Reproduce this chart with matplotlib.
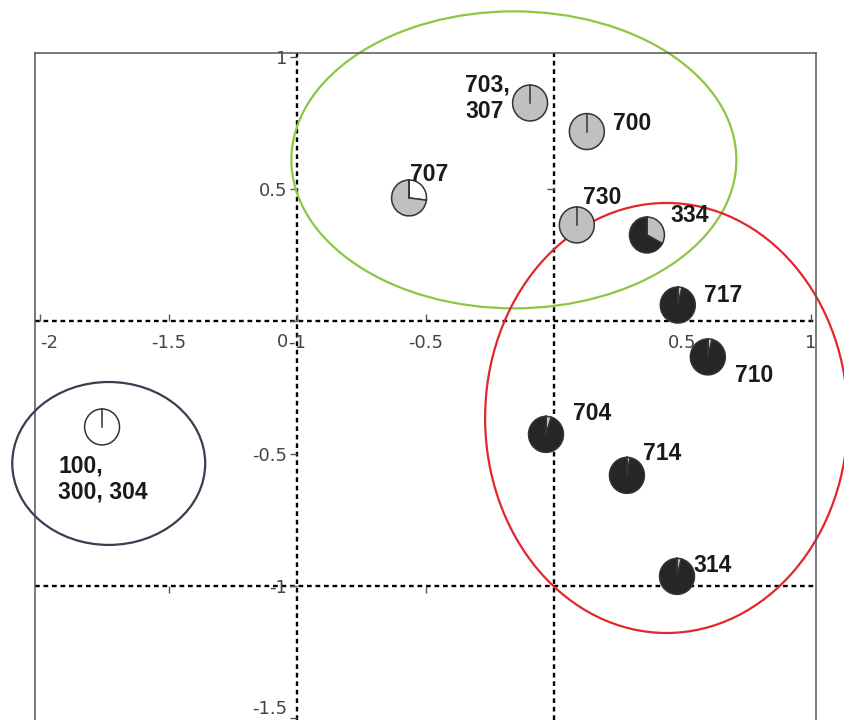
import numpy as np
import matplotlib.pyplot as plt
from matplotlib.patches import Wedge, Ellipse

plt.rcParams['axes.unicode_minus'] = False

# sample scores and pie compositions (white / grey / black)
labels = ['100,\n300, 304', '703,\n307', '700', '707', '730', '334',
          '717', '710', '704', '714', '314']
pc1 = [-1.759, -0.093, 0.128, -0.564, 0.089, 0.362, 0.482, 0.599, -0.031, 0.284, 0.479]
pc2 = [-0.399, 0.826, 0.718, 0.467, 0.365, 0.327, 0.062, -0.134, -0.427, -0.582, -0.964]
frac_white = [1.0, 0, 0, 0.27, 0, 0, 0, 0, 0, 0, 0]
frac_grey = [0, 1.0, 1.0, 0.73, 1.0, 0.33, 0.04, 0.04, 0.05, 0.03, 0.04]
frac_black = [1 - w - g for w, g in zip(frac_white, frac_grey)]

# group ellipses: centre x, centre y, width, height
grp_x = [-0.156, 0.438, -1.733]
grp_y = [0.611, -0.365, -0.537]
grp_w = [1.732, 1.412, 0.751]
grp_h = [1.123, 1.626, 0.616]
grp_col = ['#8dc641', '#e3262d', '#3c3c50']

xticks = [-2, -1.5, -1, -0.5, 0.5, 1]
xticklabels = ['-2', '-1.5', '-1', '-0.5', '0.5', '1']
yticks = [1, 0.5, 0, -0.5, -1, -1.5]
yticklabels = ['1', '0.5', '0', '-0.5', '-1', '-1.5']

# label placement (offset in pixels, alignment)
lab_off = [(-44, -28), (-65, 29), (26, 11), (1, 26), (6, 30), (23, 22),
           (26, 12), (27, -16), (27, 23), (16, 24), (16, 13)]
lab_va = ['top', 'top'] + ['center_baseline'] * 9

fig = plt.figure(figsize=(8.45, 7.2), dpi=100)
ax = fig.add_axes([35 / 845, 0, 781 / 845, 1 - 53 / 720])
ax.set_xlim(-2.02, 1.02)
ax.set_ylim(-1.507, 1.015)

# frame: top/right solid, left edge solid, axes moved to the origin
for s in ['top', 'right']:
    ax.spines[s].set_color('#555555')
    ax.spines[s].set_linewidth(1.1)
ax.spines['bottom'].set_position(('data', 0))
ax.spines['left'].set_position(('data', -1))
ax.spines['bottom'].set_visible(False)
ax.spines['left'].set_visible(False)
ax.plot([0, 0], [0, 1], transform=ax.transAxes, color='#555555', lw=1.1,
        clip_on=False)

dash = (0, (2, 1.6))
for v in [-1, 0]:
    ax.axvline(v, color='black', lw=1.7, linestyle=dash, zorder=1)
    ax.axhline(v, color='black', lw=1.7, linestyle=dash, zorder=1)

ax.set_xticks(xticks)
ax.set_xticklabels(xticklabels)
ax.set_yticks(yticks)
ax.set_yticklabels(yticklabels)
ax.tick_params(axis='x', direction='in', length=5, width=1, color='#555555',
               pad=9, labelsize=13, labelcolor='#444444')
ax.tick_params(axis='y', direction='out', length=5, width=1, color='#555555',
               pad=2, labelsize=13, labelcolor='#444444')
ax.get_xticklabels()[0].set_ha('left')
ax.get_yticklabels()[-1].set_va('bottom')
# the "0" of the y axis sits below the horizontal zero line
zero_lab = ax.get_yticklabels()[yticks.index(0)]
zero_lab.set_visible(False)
ax.annotate(yticklabels[yticks.index(0)], (-1, 0), xytext=(-9, -21),
            textcoords='offset pixels', ha='right', va='center',
            fontsize=13, color='#444444')

# stray ticks of the second frame
ax.plot([-1.5, -0.5], [-1, -1], linestyle='none', marker=3, ms=5,
        color='#555555', mew=1)
ax.plot([0], [0.5], linestyle='none', marker=0, ms=5, color='#555555', mew=1)

for cx, cy, w, h, c in zip(grp_x, grp_y, grp_w, grp_h, grp_col):
    ax.add_patch(Ellipse((cx, cy), w, h, fill=False, edgecolor=c, lw=1.6,
                         clip_on=False, zorder=2))

r = 0.068
colors = ['white', '#c0c0c0', '#262626']
for i in range(len(labels)):
    start = 90
    for f, c in zip([frac_white[i], frac_grey[i], frac_black[i]], colors):
        if f <= 0.001:
            continue
        ax.add_patch(Wedge((pc1[i], pc2[i]), r, start - f * 360, start,
                           facecolor=c, edgecolor='#333333', lw=1.1, zorder=3))
        start -= f * 360
    # radial stroke at 12 o'clock where the slices start
    ax.plot([pc1[i], pc1[i]], [pc2[i], pc2[i] + r], color='#333333', lw=1.1,
            zorder=3.5)
    ax.annotate(labels[i], (pc1[i], pc2[i]), xytext=lab_off[i],
                textcoords='offset pixels', ha='left', va=lab_va[i],
                fontsize=16.5, fontweight='bold', family='Liberation Sans',
                color='#1a1a1a', zorder=4, linespacing=1.15)

fig.savefig('out.png', dpi=100)
